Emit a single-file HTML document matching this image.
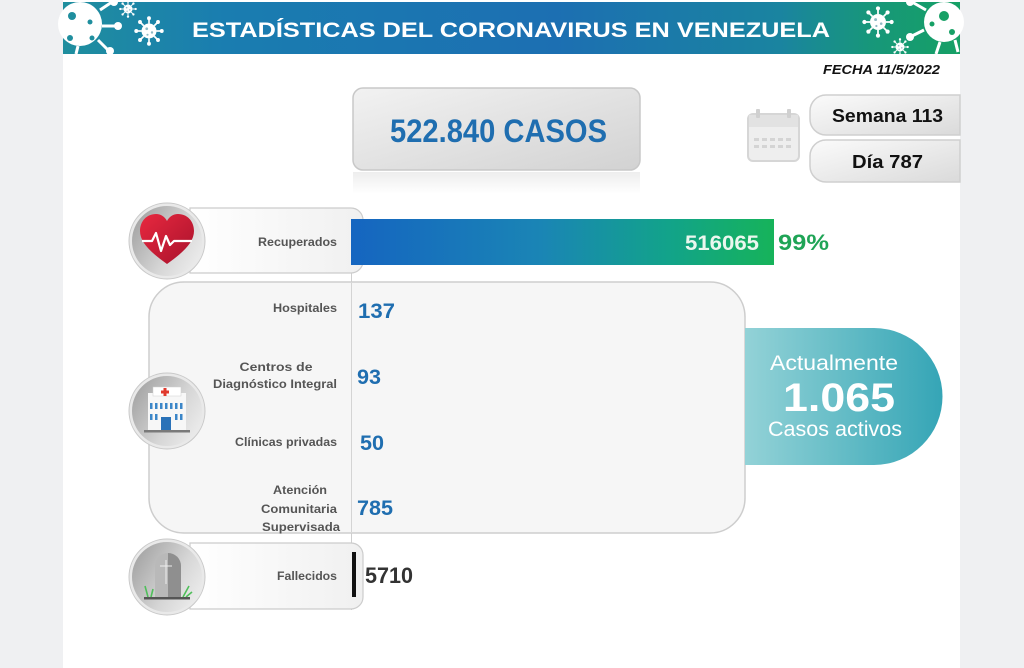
<!DOCTYPE html>
<html>
<head>
<meta charset="utf-8">
<style>
html,body{margin:0;padding:0;background:#eff0f2;}
svg{display:block;}
text{font-family:"Liberation Sans",sans-serif;}
</style>
</head>
<body>
<svg width="1024" height="668" viewBox="0 0 1024 668" xmlns="http://www.w3.org/2000/svg">
<defs>
  <linearGradient id="ban" x1="0" x2="1" y1="0" y2="0">
    <stop offset="0" stop-color="#1f8e9e"/>
    <stop offset="0.18" stop-color="#1a7db0"/>
    <stop offset="0.55" stop-color="#1c6fb2"/>
    <stop offset="0.8" stop-color="#1a84a0"/>
    <stop offset="0.9" stop-color="#17977a"/>
    <stop offset="1" stop-color="#16a065"/>
  </linearGradient>
  <linearGradient id="bar" x1="0" x2="1" y1="0" y2="0">
    <stop offset="0" stop-color="#1565c0"/>
    <stop offset="0.45" stop-color="#1a85b5"/>
    <stop offset="0.75" stop-color="#12a38a"/>
    <stop offset="1" stop-color="#16b35a"/>
  </linearGradient>
  <linearGradient id="pill" x1="0" x2="1" y1="0" y2="0">
    <stop offset="0" stop-color="#93d2d7"/>
    <stop offset="0.5" stop-color="#64bcc6"/>
    <stop offset="1" stop-color="#35a5b6"/>
  </linearGradient>
  <linearGradient id="casos" x1="0" x2="1" y1="0" y2="1">
    <stop offset="0" stop-color="#f2f2f2"/>
    <stop offset="1" stop-color="#d2d2d2"/>
  </linearGradient>
  <linearGradient id="side" x1="0" x2="1" y1="0" y2="1">
    <stop offset="0" stop-color="#fbfbfb"/>
    <stop offset="1" stop-color="#dadada"/>
  </linearGradient>
  <linearGradient id="lab" x1="0" x2="1" y1="0" y2="0">
    <stop offset="0" stop-color="#ffffff"/>
    <stop offset="1" stop-color="#f0f0f0"/>
  </linearGradient>
  <linearGradient id="circ" x1="0" x2="1" y1="0.2" y2="0.8">
    <stop offset="0" stop-color="#a2a2a2"/>
    <stop offset="0.6" stop-color="#d6d6d6"/>
    <stop offset="1" stop-color="#ededed"/>
  </linearGradient>
  <linearGradient id="heart" x1="0" x2="1" y1="0" y2="1">
    <stop offset="0" stop-color="#e8283f"/>
    <stop offset="1" stop-color="#a8122c"/>
  </linearGradient>
  <linearGradient id="refl" x1="0" x2="0" y1="0" y2="1">
    <stop offset="0" stop-color="#e6e6e6"/>
    <stop offset="1" stop-color="#ffffff"/>
  </linearGradient>
  <symbol id="vir" viewBox="-20 -20 40 40">
    <g stroke="#fff" stroke-width="2.2">
      <line x1="0" y1="-10" x2="0" y2="-16"/><line x1="0" y1="10" x2="0" y2="16"/>
      <line x1="-10" y1="0" x2="-16" y2="0"/><line x1="10" y1="0" x2="16" y2="0"/>
      <line x1="7" y1="7" x2="11.5" y2="11.5"/><line x1="-7" y1="-7" x2="-11.5" y2="-11.5"/>
      <line x1="7" y1="-7" x2="11.5" y2="-11.5"/><line x1="-7" y1="7" x2="-11.5" y2="11.5"/>
    </g>
    <g fill="#fff">
      <circle r="10"/>
      <circle cx="0" cy="-17" r="2.6"/><circle cx="0" cy="17" r="2.6"/>
      <circle cx="-17" cy="0" r="2.6"/><circle cx="17" cy="0" r="2.6"/>
      <circle cx="12" cy="12" r="2.6"/><circle cx="-12" cy="-12" r="2.6"/>
      <circle cx="12" cy="-12" r="2.6"/><circle cx="-12" cy="12" r="2.6"/>
    </g>
    <g fill="#8fb9c4"><circle cx="-3" cy="-3" r="1.8"/><circle cx="4" cy="2" r="1.6"/><circle cx="-2" cy="5" r="1.4"/></g>
  </symbol>
</defs>

<!-- white page area -->
<rect x="63" y="0" width="897" height="668" fill="#ffffff"/>

<!-- banner -->
<rect x="63" y="2" width="897" height="52" fill="url(#ban)"/>
<!-- left viruses -->
<g>
  <circle cx="80" cy="24" r="22" fill="#fff"/>
  <g stroke="#fff" stroke-width="3">
    <line x1="100" y1="10" x2="112" y2="2"/><line x1="102" y1="26" x2="116" y2="26"/>
    <line x1="98" y1="40" x2="108" y2="50"/><line x1="78" y1="46" x2="76" y2="54"/>
  </g>
  <circle cx="114" cy="2" r="4" fill="#fff"/><circle cx="118" cy="26" r="4" fill="#fff"/>
  <circle cx="110" cy="51" r="4" fill="#fff"/>
  <g fill="#1f8e9e"><circle cx="72" cy="16" r="4"/><circle cx="90" cy="22" r="2.5"/><circle cx="70" cy="38" r="3"/><circle cx="92" cy="38" r="2.5"/></g>
  <use href="#vir" x="119" y="0" width="18" height="18"/>
  <use href="#vir" x="134" y="16" width="30" height="30"/>
</g>
<!-- right viruses -->
<g>
  <use href="#vir" x="862" y="6" width="32" height="32"/>
  <use href="#vir" x="891" y="38" width="18" height="18"/>
  <circle cx="944" cy="22" r="20" fill="#fff"/>
  <g stroke="#fff" stroke-width="3">
    <line x1="926" y1="10" x2="912" y2="2"/><line x1="924" y1="30" x2="912" y2="36"/>
    <line x1="940" y1="42" x2="936" y2="54"/><line x1="955" y1="40" x2="958" y2="52"/>
  </g>
  <circle cx="910" cy="2" r="4" fill="#fff"/><circle cx="910" cy="37" r="4" fill="#fff"/>
  <g fill="#16a065"><circle cx="944" cy="16" r="5"/><circle cx="932" cy="24" r="2.5"/><circle cx="952" cy="32" r="3"/></g>
</g>
<text x="192" y="37" font-size="21" font-weight="bold" fill="#ffffff" textLength="638" lengthAdjust="spacingAndGlyphs">ESTADÍSTICAS DEL CORONAVIRUS EN VENEZUELA</text>

<!-- fecha -->
<text x="823" y="74" font-size="13" font-weight="bold" font-style="italic" fill="#111" textLength="117" lengthAdjust="spacingAndGlyphs">FECHA 11/5/2022</text>

<!-- casos box -->
<rect x="353" y="172" width="287" height="22" fill="url(#refl)" opacity="0.7"/>
<rect x="353" y="88" width="287" height="82" rx="10" fill="url(#casos)" stroke="#c8c8c8" stroke-width="1.5"/>
<text x="390" y="142" font-size="32" font-weight="bold" fill="#1f6eb0" textLength="217" lengthAdjust="spacingAndGlyphs">522.840 CASOS</text>

<!-- calendar -->
<g>
  <rect x="748" y="114" width="51" height="47" rx="5" fill="#eeeeee" stroke="#d6d6d6" stroke-width="2"/>
  <rect x="749" y="115" width="49" height="12" fill="#e2e2e2"/>
  <rect x="756" y="109" width="4" height="9" rx="1" fill="#d0d0d0"/>
  <rect x="787" y="109" width="4" height="9" rx="1" fill="#d0d0d0"/>
  <g fill="#d4d4d4">
    <rect x="754" y="138" width="5" height="3"/><rect x="762" y="138" width="5" height="3"/><rect x="770" y="138" width="5" height="3"/><rect x="778" y="138" width="5" height="3"/><rect x="786" y="138" width="5" height="3"/>
    <rect x="754" y="145" width="5" height="3"/><rect x="762" y="145" width="5" height="3"/><rect x="770" y="145" width="5" height="3"/><rect x="778" y="145" width="5" height="3"/><rect x="786" y="145" width="5" height="3"/>
  </g>
</g>
<!-- semana / dia -->
<path d="M960,95 H826 A16,16 0 0 0 810,111 V119 A16,16 0 0 0 826,135 H960 Z" fill="url(#side)" stroke="#cfcfcf" stroke-width="1.5"/>
<path d="M960,140 H826 A16,16 0 0 0 810,156 V166 A16,16 0 0 0 826,182 H960 Z" fill="url(#side)" stroke="#cfcfcf" stroke-width="1.5"/>
<text x="832" y="122" font-size="18" font-weight="bold" fill="#111" textLength="111" lengthAdjust="spacingAndGlyphs">Semana 113</text>
<text x="852" y="168" font-size="18" font-weight="bold" fill="#111" textLength="71" lengthAdjust="spacingAndGlyphs">Día 787</text>

<!-- vertical axis line -->
<line x1="351.5" y1="208" x2="351.5" y2="610" stroke="#cfcfcf" stroke-width="1"/>

<!-- Recuperados row -->
<path d="M190,208 H351 A12,12 0 0 1 363,220 V261 A12,12 0 0 1 351,273 H190 Z" fill="url(#lab)" stroke="#cccccc" stroke-width="1.2"/>
<rect x="351" y="219" width="423" height="46" fill="url(#bar)"/>
<text x="337" y="246" font-size="12" font-weight="bold" fill="#555" text-anchor="end" textLength="79" lengthAdjust="spacingAndGlyphs">Recuperados</text>
<text x="685" y="250" font-size="21" font-weight="bold" fill="#eaf7ee" textLength="74" lengthAdjust="spacingAndGlyphs">516065</text>
<text x="778" y="250" font-size="22" font-weight="bold" fill="#1fa456" textLength="51" lengthAdjust="spacingAndGlyphs">99%</text>
<circle cx="167" cy="241" r="38" fill="#e9e9e9" stroke="#c9c9c9" stroke-width="1"/>
<circle cx="167" cy="241" r="35" fill="url(#circ)"/>
<path d="M167,264 C150,252 140,242 140,231 C140,221 147,214 156,214 C161,214 165,217 167,221 C169,217 173,214 178,214 C187,214 194,221 194,231 C194,242 184,252 167,264 Z" fill="url(#heart)"/>
<polyline points="142,241 152,241 156,233 161,251 166,236 170,245 174,241 192,241" fill="none" stroke="#fff" stroke-width="2.2" stroke-linejoin="round"/>

<!-- hospital box -->
<path d="M184,282 H710 A35,35 0 0 1 745,317 V498 A35,35 0 0 1 710,533 H184 A35,35 0 0 1 149,498 V317 A35,35 0 0 1 184,282 Z" fill="#f6f6f6" stroke="#cdcdcd" stroke-width="1.5"/>
<line x1="351.5" y1="283" x2="351.5" y2="532" stroke="#d4d4d4" stroke-width="1"/>

<!-- teal pill -->
<path d="M745,328 H874 A68.5,68.5 0 0 1 874,465 H745 Z" fill="url(#pill)"/>
<text x="834" y="370" font-size="21" fill="#ffffff" text-anchor="middle" textLength="128" lengthAdjust="spacingAndGlyphs">Actualmente</text>
<text x="839" y="411" font-size="40" font-weight="bold" fill="#ffffff" text-anchor="middle" textLength="112" lengthAdjust="spacingAndGlyphs">1.065</text>
<text x="835" y="436" font-size="21" fill="#ffffff" text-anchor="middle" textLength="134" lengthAdjust="spacingAndGlyphs">Casos activos</text>

<!-- hospital labels -->
<g font-size="12" font-weight="bold" fill="#555">
  <text x="337" y="312" text-anchor="end" textLength="64" lengthAdjust="spacingAndGlyphs">Hospitales</text>
  <text x="276" y="371" text-anchor="middle" textLength="73" lengthAdjust="spacingAndGlyphs">Centros de</text>
  <text x="337" y="388" text-anchor="end" textLength="124" lengthAdjust="spacingAndGlyphs">Diagnóstico Integral</text>
  <text x="337" y="446" text-anchor="end" textLength="102" lengthAdjust="spacingAndGlyphs">Clínicas privadas</text>
  <text x="300" y="494" text-anchor="middle" textLength="54" lengthAdjust="spacingAndGlyphs">Atención</text>
  <text x="299" y="513" text-anchor="middle" textLength="76" lengthAdjust="spacingAndGlyphs">Comunitaria</text>
  <text x="301" y="531" text-anchor="middle" textLength="78" lengthAdjust="spacingAndGlyphs">Supervisada</text>
</g>
<g font-size="21" font-weight="bold" fill="#1f6eb0">
  <text x="358" y="318" textLength="37" lengthAdjust="spacingAndGlyphs">137</text>
  <text x="357" y="384" textLength="24" lengthAdjust="spacingAndGlyphs">93</text>
  <text x="360" y="450" textLength="24" lengthAdjust="spacingAndGlyphs">50</text>
  <text x="357" y="515" textLength="36" lengthAdjust="spacingAndGlyphs">785</text>
</g>

<!-- hospital circle -->
<circle cx="167" cy="411" r="38" fill="#e9e9e9" stroke="#c9c9c9" stroke-width="1"/>
<circle cx="167" cy="411" r="35" fill="url(#circ)"/>
<g>
  <rect x="148" y="393" width="38" height="38" fill="#f7f7f7"/>
  <rect x="153" y="387" width="28" height="9" fill="#ffffff" stroke="#cfcfcf" stroke-width="0.5"/>
  <rect x="163.5" y="388" width="3" height="8" fill="#e03a2e"/>
  <rect x="161" y="390.5" width="8" height="3" fill="#e03a2e"/>
  <g fill="#3b86c8">
    <rect x="150" y="403" width="2.5" height="6"/><rect x="155" y="403" width="2.5" height="6"/><rect x="160" y="403" width="2.5" height="6"/><rect x="165" y="403" width="2.5" height="6"/><rect x="170" y="403" width="2.5" height="6"/><rect x="175" y="403" width="2.5" height="6"/><rect x="180" y="403" width="2.5" height="6"/>
    <rect x="150" y="414" width="2.5" height="6"/><rect x="155" y="414" width="2.5" height="6"/><rect x="175" y="414" width="2.5" height="6"/><rect x="180" y="414" width="2.5" height="6"/>
    <rect x="161" y="417" width="10" height="14" fill="#2a72b8"/>
  </g>
  <rect x="144" y="430" width="46" height="2.5" fill="#7a7a7a"/>
</g>

<!-- Fallecidos row -->
<path d="M190,543 H351 A12,12 0 0 1 363,555 V597 A12,12 0 0 1 351,609 H190 Z" fill="url(#lab)" stroke="#cccccc" stroke-width="1.2"/>
<rect x="352" y="552" width="4" height="45" fill="#111"/>
<text x="337" y="580" font-size="12" font-weight="bold" fill="#555" text-anchor="end" textLength="60" lengthAdjust="spacingAndGlyphs">Fallecidos</text>
<text x="365" y="583" font-size="22" font-weight="bold" fill="#333" textLength="48" lengthAdjust="spacingAndGlyphs">5710</text>
<circle cx="167" cy="577" r="38" fill="#e9e9e9" stroke="#c9c9c9" stroke-width="1"/>
<circle cx="167" cy="577" r="35" fill="url(#circ)"/>
<g>
  <path d="M155,598 V566 A13,13 0 0 1 181,566 V598 Z" fill="#b9b9b9"/>
  <path d="M168,553 A13,13 0 0 1 181,566 V598 H168 Z" fill="#8f8f8f"/>
  <line x1="166" y1="560" x2="166" y2="584" stroke="#eeeeee" stroke-width="1"/>
  <line x1="160" y1="566" x2="172" y2="566" stroke="#eeeeee" stroke-width="1"/>
  <path d="M148,597 L145,586 M151,597 L153,589" stroke="#4fbf5a" stroke-width="1.6" fill="none"/>
  <path d="M183,597 L189,586 M186,597 L192,592" stroke="#4fbf5a" stroke-width="1.6" fill="none"/>
  <rect x="144" y="597" width="46" height="2.5" fill="#555"/>
</g>
</svg>
</body>
</html>
